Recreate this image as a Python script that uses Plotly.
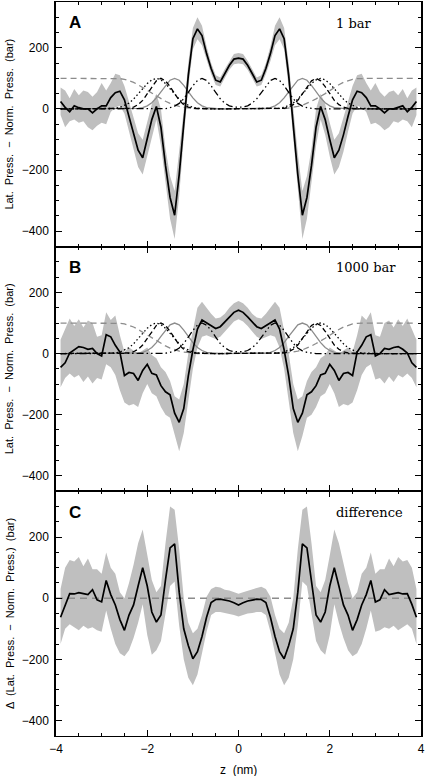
import plotly.graph_objects as go
from plotly.subplots import make_subplots

# z grid (nm)
z = [round(-3.9 + 0.1 * i, 1) for i in range(79)]

# ---------- Panel A: 1 bar ----------
a_line = [24, 5, -9, 10, 4, 0, 0, -13, 0, 10, 10, 37, 53, 58, 30, -25, -85, -135, -160, -100,
          -35, 8, -60, -185, -290, -348, -215, -50, 110, 230, 262, 240, 181, 132, 94, 88, 116, 143, 163,
          166,
          163, 143, 116, 88, 94, 132, 181, 240, 262, 230, 110, -50, -215, -348, -290, -185, -60, 8, -35,
          -100, -160, -135, -85, -25, 30, 58, 53, 37, 10, 10, 0, -13, 0, 0, 4, 10, -9, 5, 24]
a_upper = [70, 60, 35, 65, 45, 60, 55, 40, 55, 85, 60, 85, 115, 110, 75, 25, -30, -80, -101, -45,
           15, 50, 0, -130, -220, -269, -145, -5, 150, 265, 300, 272, 205, 150, 110, 103, 131, 158, 180,
           183,
           180, 158, 131, 103, 110, 150, 205, 272, 300, 265, 150, -5, -145, -269, -220, -130, 0, 50, 15,
           -45, -101, -80, -30, 25, 75, 110, 115, 85, 60, 85, 55, 40, 55, 60, 45, 65, 35, 60, 70]
a_lower = [-20, -60, -40, -35, -45, -40, -60, -70, -55, -45, -50, -10, 5, 10, -15, -75, -140, -190, -215, -155,
           -85, -35, -120, -240, -360, -426, -285, -95, 70, 195, 228, 208, 157, 114, 78, 73, 101, 128, 146,
           149,
           146, 128, 101, 73, 78, 114, 157, 208, 228, 195, 70, -95, -285, -426, -360, -240, -120, -35, -85,
           -155, -215, -190, -140, -75, -15, 10, 5, -10, -50, -45, -55, -70, -60, -40, -45, -35, -40, -60, -20]

# ---------- Panel B: 1000 bar ----------
b_line = [-45, -30, 2, 14, 23, 20, 14, 17, 0, -8, 62, 55, 27, 5, -72, -62, -65, -88, -55, -35,
          -65, -70, -105, -125, -135, -195, -225, -180, -73, 12, 80, 110, 100, 92, 82, 88, 103, 120, 135,
          142,
          135, 120, 103, 88, 82, 92, 100, 110, 80, 12, -73, -180, -225, -195, -135, -125, -105, -70, -65,
          -35, -55, -88, -65, -62, -72, 5, 27, 55, 62, -8, 0, 17, 14, 20, 23, 14, 2, -30, -45]
b_upper = [45, 80, 115, 90, 112, 85, 108, 100, 55, 60, 135, 110, 125, 60, 5, 20, 10, 0, 10, 20,
           -5, -15, -45, -60, -90, -140, -150, -100, 0, 80, 150, 170, 150, 130, 115, 118, 130, 150, 165,
           172,
           165, 150, 130, 118, 115, 130, 150, 170, 150, 80, 0, -100, -150, -140, -90, -60, -45, -15, -5,
           20, 10, 0, 10, 20, 5, 60, 125, 110, 135, 60, 55, 100, 108, 85, 112, 90, 115, 80, 45]
b_lower = [-110, -80, -65, -78, -70, -93, -75, -98, -80, -85, -35, -45, -70, -120, -160, -170, -165, -175, -130, -100,
           -130, -140, -175, -200, -210, -270, -320, -260, -150, -50, 20, 55, 60, 55, 48, 55, 72, 90, 105,
           112,
           105, 90, 72, 55, 48, 55, 60, 55, 20, -50, -150, -260, -320, -270, -210, -200, -175, -140, -130,
           -100, -130, -175, -165, -170, -160, -120, -70, -45, -35, -85, -80, -98, -75, -93, -70, -78, -65, -80, -110]

# ---------- Panel C: difference ----------
c_line = [-62, -20, 15, 14, 18, 15, 12, 28, -5, -12, 58, 12, -22, -70, -105, -55, -22, 40, 100, 40,
          -45, -78, -55, 60, 165, 178, 20, -100, -155, -198, -175, -125, -62, -14, -4, -3, -6, -9, -15,
          -22,
          -15, -9, -6, -3, -4, -14, -62, -125, -175, -198, -155, -100, 20, 178, 165, 60, -55, -78, -45,
          40, 100, 40, -22, -55, -105, -70, -22, 12, 58, -12, -5, 28, 12, 15, 18, 14, 15, -20, -62]
c_upper = [30, 100, 125, 120, 135, 105, 130, 95, 95, 80, 150, 100, 80, 20, 0, 50, 110, 180, 225, 140,
           60, 20, 40, 180, 300, 290, 160, 0, -80, -115, -100, -55, 5, 30, 38, 35, 28, 25, 20,
           15,
           20, 25, 28, 35, 38, 30, 5, -55, -100, -115, -80, 0, 160, 290, 300, 180, 40, 20, 60,
           140, 225, 180, 110, 50, 0, 20, 80, 100, 150, 80, 95, 95, 130, 105, 135, 120, 125, 100, 30]
c_lower = [-150, -100, -85, -95, -105, -90, -100, -95, -105, -110, -40, -100, -150, -180, -190, -170, -130, -80, -20, -120,
           -185, -170, -140, -50, 40, 55, -90, -200, -260, -285, -250, -180, -110, -55, -45, -45, -48, -50, -55,
           -60,
           -55, -50, -48, -45, -45, -55, -110, -180, -250, -285, -260, -200, -90, 55, 40, -50, -140, -170, -185,
           -120, -20, -80, -130, -170, -190, -180, -150, -100, -40, -110, -105, -95, -100, -90, -105, -95, -85, -100, -150]

# ---------- Reference profiles (panels A and B) ----------
ref_gray_dashed = [100, 100, 100, 100, 100, 100, 100, 100, 100, 100, 100, 100, 100, 99, 97, 93, 87, 79, 70, 60,
                   50, 41, 33, 25, 18, 12, 8, 5, 3, 1, 0, 0, 0, 0, 0, 0, 0, 0, 0,
                   0,
                   0, 0, 0, 0, 0, 0, 0, 0, 0, 1, 3, 5, 8, 12, 18, 25, 33, 41, 50,
                   60, 70, 79, 87, 93, 97, 99, 100, 100, 100, 100, 100, 100, 100, 100, 100, 100, 100, 100, 100]
ref_dotted = [0, 0, 0, 0, 0, 0, 0, 0, 0, 0, 0, 1, 2, 5, 11, 19, 32, 48, 66, 83,
              95, 100, 95, 83, 66, 48, 32, 19, 11, 5, 2, 1, 0, 0, 0, 0, 0, 0, 0,
              0,
              0, 0, 0, 0, 0, 0, 0, 1, 2, 5, 11, 19, 32, 48, 66, 83, 95, 100, 95,
              83, 66, 48, 32, 19, 11, 5, 2, 1, 0, 0, 0, 0, 0, 0, 0, 0, 0, 0, 0]
ref_dashed = [0, 0, 0, 0, 0, 0, 0, 0, 0, 0, 0, 0, 0, 0, 1, 2, 6, 14, 28, 49,
              73, 92, 100, 92, 73, 49, 28, 14, 6, 2, 1, 0, 0, 0, 0, 0, 0, 0, 0,
              0,
              0, 0, 0, 0, 0, 0, 0, 0, 1, 2, 6, 14, 28, 49, 73, 92, 100, 92, 73,
              49, 28, 14, 6, 2, 1, 0, 0, 0, 0, 0, 0, 0, 0, 0, 0, 0, 0, 0, 0]
ref_gray_solid = [0, 0, 0, 0, 0, 0, 0, 0, 0, 0, 0, 0, 0, 0, 0, 0, 1, 2, 4, 10,
                  20, 36, 56, 77, 94, 100, 94, 77, 56, 36, 20, 10, 4, 2, 1, 0, 0, 0, 0,
                  0,
                  0, 0, 0, 0, 1, 2, 4, 10, 20, 36, 56, 77, 94, 100, 94, 77, 56, 36, 20,
                  10, 4, 2, 1, 0, 0, 0, 0, 0, 0, 0, 0, 0, 0, 0, 0, 0, 0, 0, 0]
ref_dashdot = [0, 0, 0, 0, 0, 0, 0, 0, 0, 0, 0, 0, 0, 0, 0, 0, 0, 0, 0, 0,
               0, 0, 0, 1, 4, 9, 18, 33, 54, 76, 93, 100, 93, 76, 54, 33, 19, 10, 6,
               5,
               6, 10, 19, 33, 54, 76, 93, 100, 93, 76, 54, 33, 18, 9, 4, 1, 0, 0, 0,
               0, 0, 0, 0, 0, 0, 0, 0, 0, 0, 0, 0, 0, 0, 0, 0, 0, 0, 0, 0]

panel_labels = ["A", "B", "C"]
panel_notes = ["1 bar", "1000 bar", "difference"]
ytitle_ab = "Lat.  Press.  \u2212  Norm.  Press.  (bar)"
ytitle_c = "\u0394  (Lat.  Press.  \u2212  Norm.  Press.)  (bar)"
xtitle = "z  (nm)"

BAND = "#bfbfbf"
GRAY = "#8c8c8c"

fig = make_subplots(rows=3, cols=1, shared_xaxes=True, vertical_spacing=0)


def add_band(row, lower, upper):
    fig.add_trace(go.Scatter(x=z, y=lower, mode="lines", line=dict(width=0, color=BAND),
                             hoverinfo="skip", showlegend=False), row=row, col=1)
    fig.add_trace(go.Scatter(x=z, y=upper, mode="lines", line=dict(width=0, color=BAND),
                             fill="tonexty", fillcolor=BAND, hoverinfo="skip", showlegend=False),
                  row=row, col=1)


def add_refs(row):
    specs = [
        (ref_gray_dashed, GRAY, "6px,4px", 1.3),
        (ref_gray_solid, GRAY, "solid", 1.3),
        (ref_dotted, "black", "1.5px,2.5px", 1.3),
        (ref_dashed, "black", "5px,3px", 1.3),
        (ref_dashdot, "black", "7px,3px,1.5px,3px,1.5px,3px", 1.3),
    ]
    for ys, col, dash, w in specs:
        fig.add_trace(go.Scatter(x=z, y=ys, mode="lines", line=dict(color=col, dash=dash, width=w),
                                 showlegend=False), row=row, col=1)


add_band(1, a_lower, a_upper)
add_refs(1)
fig.add_trace(go.Scatter(x=z, y=a_line, mode="lines", line=dict(color="black", width=1.7),
                         showlegend=False), row=1, col=1)

add_band(2, b_lower, b_upper)
add_refs(2)
fig.add_trace(go.Scatter(x=z, y=b_line, mode="lines", line=dict(color="black", width=1.7),
                         showlegend=False), row=2, col=1)

add_band(3, c_lower, c_upper)
fig.add_trace(go.Scatter(x=[-4, 4], y=[0, 0], mode="lines",
                         line=dict(color=GRAY, dash="7px,5px", width=1.5), showlegend=False), row=3, col=1)
fig.add_trace(go.Scatter(x=z, y=c_line, mode="lines", line=dict(color="black", width=1.7),
                         showlegend=False), row=3, col=1)

tickfont = dict(family="Liberation Sans, Arial, sans-serif", size=12, color="black")
for i in range(1, 4):
    fig.update_xaxes(range=[-4, 4], dtick=2, tick0=0, ticks="inside", ticklen=6, tickwidth=1.2,
                     minor=dict(dtick=0.5, ticklen=3, ticks="inside", tickwidth=1.2, tickcolor="black"),
                     showline=True, linewidth=1, linecolor="black", mirror="allticks",
                     showgrid=False, zeroline=False, tickcolor="black", tickfont=tickfont,
                     automargin=False, ticklabelstandoff=2,
                     showticklabels=(i == 3), row=i, col=1)
    fig.update_yaxes(range=[-451, 350], dtick=200, tick0=0, ticks="inside", ticklen=6, tickwidth=1.2,
                     minor=dict(dtick=50, ticklen=3, ticks="inside", tickwidth=1.2, tickcolor="black"),
                     showline=True, linewidth=1.5, linecolor="black", mirror="allticks",
                     showgrid=False, zeroline=False, tickcolor="black", tickfont=tickfont,
                     automargin=False, ticklabelstandoff=3, row=i, col=1)

annotations = []
yrefs = ["y domain", "y2 domain", "y3 domain"]
xrefs = ["x domain", "x2 domain", "x3 domain"]
for i in range(3):
    annotations.append(dict(text="<b>%s</b>" % panel_labels[i], xref=xrefs[i], yref=yrefs[i],
                            x=0.03, y=0.915, xanchor="left", yanchor="middle", showarrow=False,
                            font=dict(family="Liberation Sans, Arial, sans-serif", size=17, color="black")))
    annotations.append(dict(text=panel_notes[i], xref=xrefs[i], yref=yrefs[i],
                            x=0.763, y=0.913, xanchor="left", yanchor="middle", showarrow=False,
                            font=dict(family="DejaVu Serif, serif", size=13, color="black")))
    annotations.append(dict(text=ytitle_ab if i < 2 else ytitle_c, xref="paper", yref=yrefs[i],
                            x=-0.128, y=0.5, xanchor="center", yanchor="middle", showarrow=False,
                            textangle=-90,
                            font=dict(family="Liberation Sans, Arial, sans-serif", size=11, color="black")))
annotations.append(dict(text=xtitle, xref="paper", yref="paper", x=0.5, y=-0.0463,
                        xanchor="center", yanchor="middle", showarrow=False, font=tickfont))

fig.update_layout(width=427, height=776, margin=dict(l=56, r=6, t=2, b=40),
                  plot_bgcolor="white", paper_bgcolor="white", showlegend=False,
                  annotations=annotations)

fig.write_html("out.html", config={"displayModeBar": False},
               post_script="document.body.style.margin='0px';document.body.style.padding='0px';"
                           "document.body.style.overflow='hidden';")
